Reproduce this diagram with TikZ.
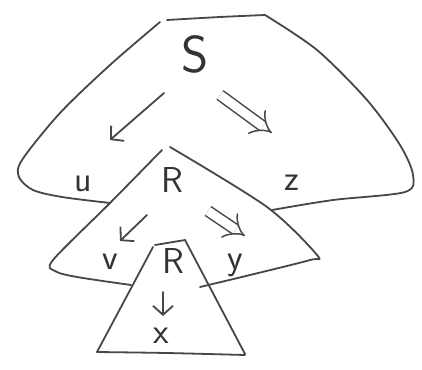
\documentclass[tikz,border=0pt]{standalone}
\usetikzlibrary{arrows.meta}

\begin{document}
\begin{tikzpicture}[
  x=1pt, y=-1pt,
  pen/.style={draw=black!72, line width=1.8pt, line cap=round, line join=round},
  arrow/.style={pen, -{Straight Barb[length=9pt, width=20pt]}},
  dblarrow/.style={draw=black!72, line width=1.5pt, double, double distance=9pt, -{Implies}},
  lbl/.style={font=\sffamily\fontsize{36}{38}\selectfont, text=black!80, inner sep=0pt},
  biglbl/.style={lbl, font=\sffamily\fontsize{52}{54}\selectfont}
]
\useasboundingbox (0,0) rectangle (422,369);

% outer tree S
\draw[pen] plot[smooth] coordinates {(110,203) (62,197) (33,190) (19,177) (22,160) (60,113) (110,65) (160,22)};
\draw[pen] plot[smooth] coordinates {(167,20) (220,17) (265,15)};
\draw[pen] plot[smooth] coordinates {(265,15) (317,50) (367,100) (400,145) (413,175) (405,192) (333,200) (272,210)};

% middle tree R
\draw[pen] plot[smooth] coordinates {(162,150) (110,203) (53,260) (55,271) (77,277) (131,285)};
\draw[pen] plot[smooth] coordinates {(170,147) (267,207) (317,255) (310,260) (250,275) (200,287)};

% inner tree R
\draw[pen] (153,247) -- (97,352);
\draw[pen] (155,245) -- (185,240);
\draw[pen] (185,240) -- (245,354);
\draw[pen] plot[smooth] coordinates {(97,352) (167,353) (245,355)};

% labels
\node[biglbl] (S) at (195,54) {S};
\node[lbl] (R1) at (172,180) {R};
\node[lbl] (u) at (83,184) {u};
\node[lbl] (z) at (292,183) {z};
\node[lbl] (v) at (110,262) {v};
\node[lbl] (R2) at (173,261) {R};
\node[lbl] (y) at (235,265) {y};
\node[lbl] (x) at (161,336) {x};

% arrows
\coordinate (sl0) at (164,93);
\coordinate (sl1) at (110,140);
\coordinate (sr0) at (220,95);
\coordinate (sr1) at (272,133);
\coordinate (rl0) at (147,215);
\coordinate (rl1) at (120,241);
\coordinate (rr0) at (208,211);
\coordinate (rr1) at (245,236);
\coordinate (rd0) at (163,292);
\coordinate (rd1) at (163,316);

\draw[arrow] (sl0) -- (sl1);
\draw[dblarrow] (sr0) -- (sr1);
\draw[arrow] (rl0) -- (rl1);
\draw[dblarrow] (rr0) -- (rr1);
\draw[arrow] (rd0) -- (rd1);

\end{tikzpicture}
\end{document}
